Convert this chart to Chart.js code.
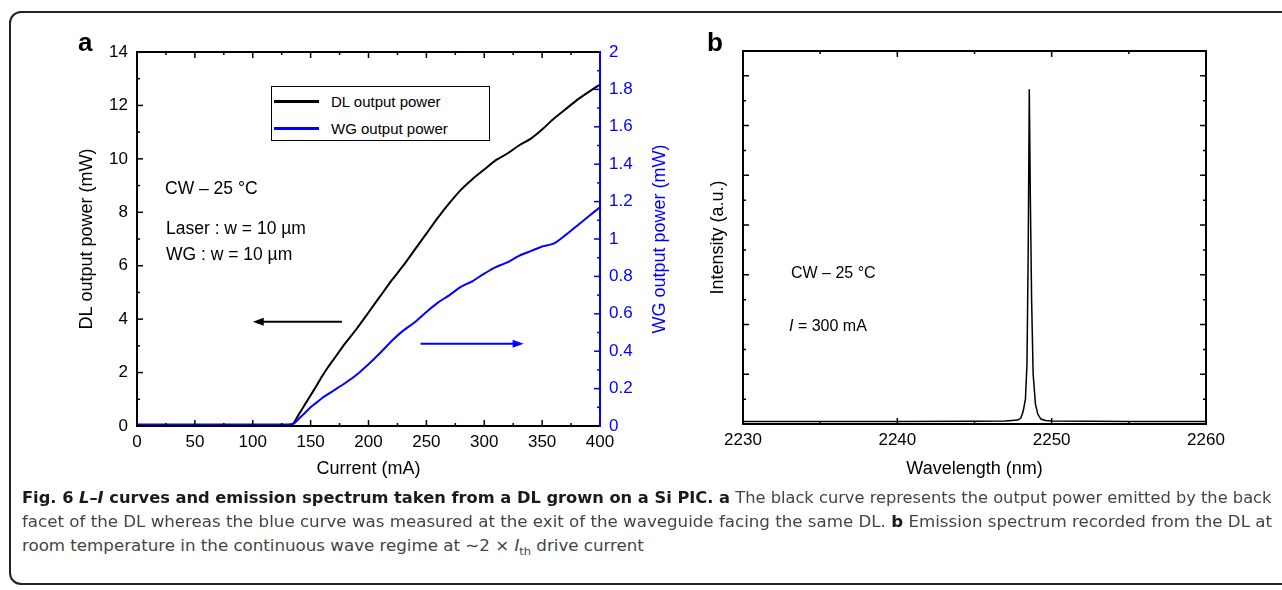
<!DOCTYPE html>
<html>
<head>
<meta charset="utf-8">
<script src="https://cdn.jsdelivr.net/npm/chart.js@4.4.0/dist/chart.umd.min.js"></script>
<style>
  body { margin: 0; width: 1282px; height: 590px; background: #fff; overflow: hidden; position: relative;
         font-family: "Liberation Sans", Arial, sans-serif; }
  .frame { position: absolute; left: 9px; top: 11px; width: 1300px; height: 574px; border: 2px solid #222;
           border-radius: 12px; box-sizing: border-box; }
  #wrapA { position: absolute; left: 0; top: 0; width: 700px; height: 490px; }
  #wrapB { position: absolute; left: 700px; top: 0; width: 582px; height: 490px; }
  .lbl { position: absolute; white-space: nowrap; color: #000; line-height: 1; }
  .panel { font-weight: bold; font-size: 26px; }
  .legend { position: absolute; left: 271px; top: 86px; width: 219px; height: 55px; border: 1px solid #000;
            box-sizing: border-box; background: #fff; }
  .legend .ln { position: absolute; left: 2px; width: 45px; height: 3px; }
  .legend .tx { position: absolute; left: 59px; font-size: 15px; line-height: 1; white-space: nowrap; }
  .cap { position: absolute; left: 22px; white-space: nowrap; font-family: "Liberation Sans Narrow", "DejaVu Sans Condensed", sans-serif;
         font-size: 16px; line-height: 1; color: #444; transform-origin: 0 0; display: inline-block; }
  .cap b { color: #1a1a1a; }
</style>
</head>
<body>
<div class="frame"></div>
<div id="wrapA"><canvas id="grafico-li" width="700" height="490"></canvas></div>
<div id="wrapB"><canvas id="grafico-espectro" width="582" height="490"></canvas></div>

<div class="lbl panel" style="left:78px; top:29px;">a</div>
<div class="lbl panel" style="left:707px; top:29px;">b</div>

<div class="legend">
  <div class="ln" style="top:13px; background:#000;"></div>
  <div class="tx" style="top:7px;">DL output power</div>
  <div class="ln" style="top:40px; background:#0000ff;"></div>
  <div class="tx" style="top:34px;">WG output power</div>
</div>

<div class="lbl" style="left:165px; top:180px; font-size:17.5px;">CW – 25 °C</div>
<div class="lbl" style="left:166px; top:220px; font-size:17.5px;">Laser : w = 10 µm</div>
<div class="lbl" style="left:166px; top:246px; font-size:17.5px;">WG : w = 10 µm</div>

<div class="lbl" style="left:791px; top:265px; font-size:16px;">CW – 25 °C</div>
<div class="lbl" style="left:789px; top:318px; font-size:16px;"><i>I</i> = 300 mA</div>

<div class="cap" id="cap1" style="top:490px;"><b>Fig. 6 <i>L</i>–<i>I</i> curves and emission spectrum taken from a DL grown on a Si PIC. a</b> The black curve represents the output power emitted by the back</div>
<div class="cap" id="cap2" style="top:514px;">facet of the DL whereas the blue curve was measured at the exit of the waveguide facing the same DL. <b>b</b> Emission spectrum recorded from the DL at</div>
<div class="cap" id="cap3" style="top:538px;">room temperature in the continuous wave regime at ∼2 × <i>I</i><sub style="font-size:11px">th</sub> drive current</div>

<script>
const corrente = [0, 25, 50, 75, 100, 125, 133, 136, 140, 145, 150, 155, 160, 165, 170, 180, 190, 200, 210, 220,
  230, 240, 250, 260, 270, 280, 290, 300, 310, 320, 330, 340, 350, 360, 370, 380, 390, 400];
const potenciaDL = [0.02, 0.02, 0.02, 0.02, 0.02, 0.02, 0.03, 0.15, 0.45, 0.8, 1.15, 1.5, 1.87, 2.2, 2.5, 3.1, 3.65, 4.25, 4.85, 5.45,
  6.0, 6.6, 7.2, 7.8, 8.35, 8.85, 9.25, 9.6, 9.95, 10.2, 10.5, 10.75, 11.1, 11.5, 11.85, 12.2, 12.5, 12.78];
const potenciaWG = [0.008, 0.008, 0.008, 0.008, 0.008, 0.008, 0.01, 0.015, 0.04, 0.07, 0.1, 0.125, 0.15, 0.17, 0.19, 0.23, 0.275, 0.33, 0.39, 0.455,
  0.51, 0.555, 0.61, 0.66, 0.7, 0.745, 0.775, 0.815, 0.85, 0.875, 0.91, 0.935, 0.96, 0.975, 1.02, 1.07, 1.12, 1.17];

// espectro (grafico b)
const comprimentoOnda = [2230, 2235, 2240, 2245, 2247, 2247.8, 2248.0, 2248.15, 2248.3, 2248.4, 2248.48, 2248.55,
  2248.62, 2248.7, 2248.8, 2248.95, 2249.1, 2249.3, 2249.6, 2250, 2255, 2260];
const intensidade = [0.05, 0.05, 0.05, 0.055, 0.06, 0.08, 0.12, 0.25, 0.5, 1.2, 3.5, 6.73,
  4.5, 2.5, 1.0, 0.4, 0.2, 0.1, 0.07, 0.06, 0.05, 0.05];

const AZUL = '#0000ff';
const FONTE = "'Liberation Sans', Arial, sans-serif";
Chart.defaults.font.family = FONTE;
Chart.defaults.color = '#000';

function ehMaior(v, passo) {
  return Math.abs(v / passo - Math.round(v / passo)) < 1e-6;
}

// caixa do grafico com ticks para dentro
const caixaTicks = {
  id: 'caixaTicks',
  afterDatasetsDraw(chart, args, opts) {
    const ctx = chart.ctx;
    const a = chart.chartArea;
    ctx.save();
    ctx.lineWidth = 1.5;
    opts.eixos.forEach(eixo => {
      const sc = chart.scales[eixo.id];
      ctx.strokeStyle = eixo.cor;
      sc.ticks.forEach(t => {
        const len = ehMaior(t.value, eixo.maior) ? 6 : 3;
        const p = sc.getPixelForValue(t.value);
        ctx.beginPath();
        eixo.lados.forEach(lado => {
          if (lado === 'bottom') { ctx.moveTo(p, a.bottom); ctx.lineTo(p, a.bottom - len); }
          if (lado === 'top') { ctx.moveTo(p, a.top); ctx.lineTo(p, a.top + len); }
          if (lado === 'left') { ctx.moveTo(a.left, p); ctx.lineTo(a.left + len, p); }
          if (lado === 'right') { ctx.moveTo(a.right, p); ctx.lineTo(a.right - len, p); }
        });
        ctx.stroke();
      });
    });
    const c = opts.cores;
    ctx.lineWidth = 2;
    const linha = (x0, y0, x1, y1, cor) => {
      ctx.strokeStyle = cor; ctx.beginPath(); ctx.moveTo(x0, y0); ctx.lineTo(x1, y1); ctx.stroke();
    };
    linha(a.left, a.top, a.right, a.top, c.top);
    linha(a.left, a.bottom, a.right, a.bottom, c.bottom);
    linha(a.left, a.top - 1, a.left, a.bottom + 1, c.left);
    linha(a.right, a.top - 1, a.right, a.bottom + 1, c.right);

    (opts.setas || []).forEach(s => {
      const sx = chart.scales.x, sy = chart.scales[s.eixoY];
      const x0 = sx.getPixelForValue(s.de), x1 = sx.getPixelForValue(s.ate), y = sy.getPixelForValue(s.y);
      const dir = Math.sign(x1 - x0);
      ctx.strokeStyle = s.cor; ctx.fillStyle = s.cor; ctx.lineWidth = 2;
      ctx.beginPath(); ctx.moveTo(x0, y); ctx.lineTo(x1 - dir * 8, y); ctx.stroke();
      ctx.beginPath(); ctx.moveTo(x1, y); ctx.lineTo(x1 - dir * 11, y - 4); ctx.lineTo(x1 - dir * 11, y + 4); ctx.closePath(); ctx.fill();
    });

    if (opts.tituloDireita) {
      const t = opts.tituloDireita;
      ctx.save();
      ctx.translate(t.x, (a.top + a.bottom) / 2);
      ctx.rotate(-Math.PI / 2);
      ctx.fillStyle = t.cor;
      ctx.font = '18px ' + FONTE;
      ctx.textAlign = 'center';
      ctx.textBaseline = 'middle';
      ctx.fillText(t.texto, 0, 0);
      ctx.restore();
    }
    ctx.restore();
  }
};

function plotarGraficoLI() {
  const ctx = document.getElementById('grafico-li').getContext('2d');
  new Chart(ctx, {
    type: 'line',
    data: {
      datasets: [
        {
          label: 'WG output power',
          data: corrente.map((c, i) => ({ x: c, y: potenciaWG[i] })),
          yAxisID: 'y2',
          borderColor: AZUL,
          borderWidth: 2,
          pointRadius: 0,
          tension: 0.2
        },
        {
          label: 'DL output power',
          data: corrente.map((c, i) => ({ x: c, y: potenciaDL[i] })),
          yAxisID: 'y',
          borderColor: '#000',
          borderWidth: 2,
          pointRadius: 0,
          tension: 0.2
        }
      ]
    },
    options: {
      responsive: false,
      animation: false,
      layout: { padding: { top: 52, left: 0, right: 0, bottom: 0 } },
      plugins: {
        legend: { display: false },
        tooltip: { enabled: false },
        caixaTicks: {
          eixos: [
            { id: 'x', maior: 50, cor: '#000', lados: ['bottom', 'top'] },
            { id: 'y', maior: 2, cor: '#000', lados: ['left'] },
            { id: 'y2', maior: 0.2, cor: AZUL, lados: ['right'] }
          ],
          cores: { top: '#000', bottom: '#000', left: '#000', right: AZUL },
          setas: [
            { eixoY: 'y', de: 177, ate: 100, y: 3.9, cor: '#000' },
            { eixoY: 'y2', de: 245, ate: 334, y: 0.44, cor: AZUL }
          ],
          tituloDireita: { texto: 'WG output power (mW)', x: 660, cor: AZUL }
        }
      },
      scales: {
        x: {
          type: 'linear', min: 0, max: 400,
          grid: { display: false, drawTicks: false }, border: { display: false },
          ticks: { stepSize: 25, autoSkip: false, maxRotation: 0, padding: 6, font: { size: 17 },
                   callback: v => ehMaior(v, 50) ? v : '' },
          title: { display: true, text: 'Current (mA)', font: { size: 18 }, padding: { top: 0, bottom: 10 } },
          afterFit: s => { s.height = 64; }
        },
        y: {
          position: 'left', min: 0, max: 14,
          grid: { display: false, drawTicks: false }, border: { display: false },
          ticks: { stepSize: 1, autoSkip: false, padding: 9, font: { size: 17 },
                   callback: v => ehMaior(v, 2) ? v : '' },
          title: { display: true, text: 'DL output power (mW)', font: { size: 18 }, padding: { top: 76, bottom: 0 } },
          afterFit: s => { s.width = 137; }
        },
        y2: {
          position: 'right', min: 0, max: 2,
          grid: { display: false, drawTicks: false }, border: { display: false },
          ticks: { stepSize: 0.1, autoSkip: false, padding: 9, color: AZUL, font: { size: 17 },
                   callback: v => ehMaior(v, 0.2) ? String(Number(v.toFixed(1))) : '' },
          afterFit: s => { s.width = 100; }
        }
      }
    },
    plugins: [caixaTicks]
  });
}

function plotarEspectro() {
  const ctx = document.getElementById('grafico-espectro').getContext('2d');
  new Chart(ctx, {
    type: 'line',
    data: {
      datasets: [{
        label: 'Intensity',
        data: comprimentoOnda.map((w, i) => ({ x: w, y: intensidade[i] })),
        borderColor: '#000',
        borderWidth: 1.5,
        pointRadius: 0,
        tension: 0
      }]
    },
    options: {
      responsive: false,
      animation: false,
      layout: { padding: { top: 51, left: 0, right: 76, bottom: 0 } },
      plugins: {
        legend: { display: false },
        tooltip: { enabled: false },
        caixaTicks: {
          eixos: [
            { id: 'x', maior: 10, cor: '#000', lados: ['bottom', 'top'] },
            { id: 'y', maior: 1, cor: '#000', lados: ['left', 'right'] }
          ],
          cores: { top: '#000', bottom: '#000', left: '#000', right: '#000' }
        }
      },
      scales: {
        x: {
          type: 'linear', min: 2230, max: 2260,
          grid: { display: false, drawTicks: false }, border: { display: false },
          ticks: { stepSize: 5, autoSkip: false, maxRotation: 0, padding: 6, font: { size: 17 },
                   callback: v => ehMaior(v, 10) ? v : '' },
          title: { display: true, text: 'Wavelength (nm)', font: { size: 18 }, padding: { top: 0, bottom: 10 } },
          afterFit: s => { s.height = 66; }
        },
        y: {
          min: 0, max: 7.5,
          grid: { display: false, drawTicks: false }, border: { display: false },
          ticks: { stepSize: 0.5, display: false },
          title: { display: true, text: 'Intensity (a.u.)', font: { size: 18 }, padding: { top: 7, bottom: 0 } },
          afterFit: s => { s.width = 43; }
        }
      }
    },
    plugins: [caixaTicks]
  });
}

function ajustarLegenda() {
  const alvo = 1250;
  const c1 = document.getElementById('cap1');
  const c2 = document.getElementById('cap2');
  const c3 = document.getElementById('cap3');
  const e1 = alvo / c1.offsetWidth;
  const e2 = alvo / c2.offsetWidth;
  c1.style.transform = 'scaleX(' + e1 + ')';
  c2.style.transform = 'scaleX(' + e2 + ')';
  c3.style.transform = 'scaleX(' + e2 + ')';
}

plotarGraficoLI();
plotarEspectro();
ajustarLegenda();
</script>
</body>
</html>
